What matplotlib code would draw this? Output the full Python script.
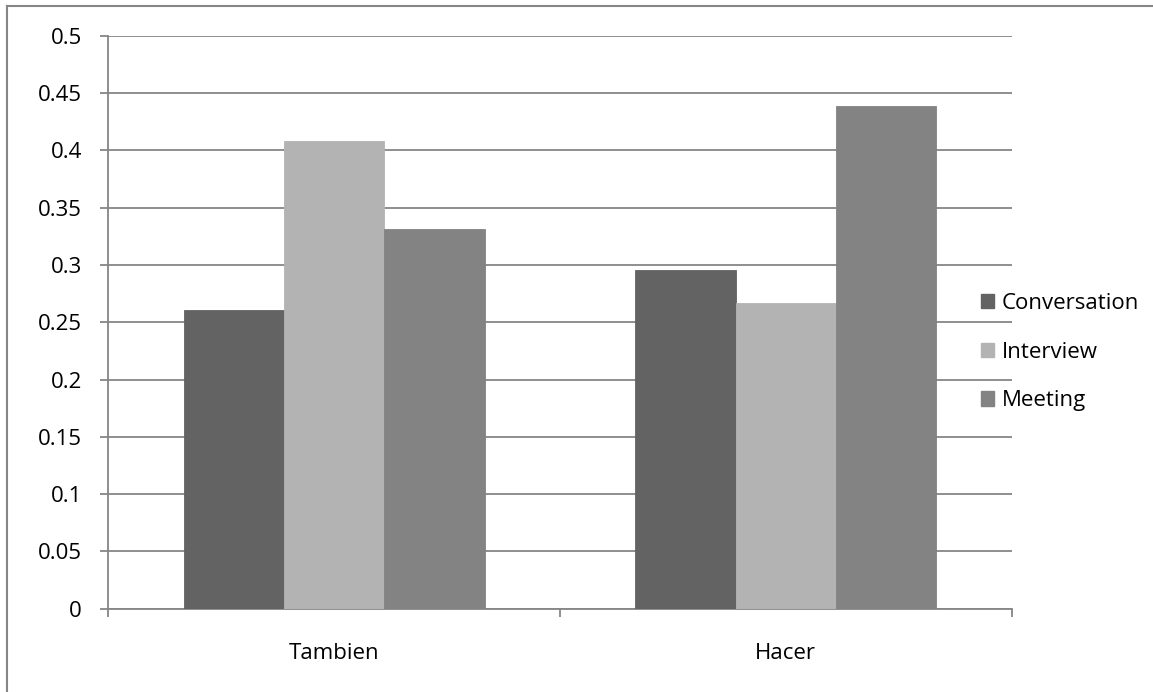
import matplotlib
matplotlib.use("Agg")
import matplotlib.pyplot as plt
import numpy as np
from matplotlib.patches import Patch
from matplotlib.lines import Line2D

categories = ["Tambien", "Hacer"]
series_names = ["Conversation", "Interview", "Meeting"]
conversation = [0.2604, 0.2953]
interview = [0.4084, 0.2665]
meeting = [0.3313, 0.4384]
y_ticks = [0, 0.05, 0.1, 0.15, 0.2, 0.25, 0.3, 0.35, 0.4, 0.45, 0.5]
y_tick_labels = ["0", "0.05", "0.1", "0.15", "0.2", "0.25", "0.3", "0.35", "0.4", "0.45", "0.5"]

colors = ["#636363", "#b3b3b3", "#838383"]
axis_gray = "#868686"

plt.rcParams["font.family"] = ["Open Sans", "DejaVu Sans"]
fs = 16

fig = plt.figure(figsize=(11.53, 6.92), dpi=100)
ax = fig.add_axes([108.3 / 1153, 1 - 608.7 / 692, (1011.7 - 108.3) / 1153, (608.7 - 35.7) / 692])

x = np.arange(len(categories))
width = 2 / 9
for i, (vals, col, name) in enumerate(zip([conversation, interview, meeting], colors, series_names)):
    ax.bar(x + (i - 1) * width, vals, width, color=col, label=name, zorder=3,
           edgecolor=col, linewidth=0.6)

ax.set_xlim(-0.5, len(categories) - 0.5)
ax.set_ylim(0, 0.5)
ax.set_yticks(y_ticks)
ax.set_yticklabels(y_tick_labels, fontsize=fs)
ax.yaxis.grid(True, color=axis_gray, linewidth=1.3, zorder=0)
ax.set_axisbelow(True)

# category boundaries carry the tick marks; names sit at the centers
ax.set_xticks(np.arange(len(categories) + 1) - 0.5)
ax.set_xticklabels([])
ax.set_xticks(x, minor=True)
ax.set_xticklabels(categories, minor=True, fontsize=fs)
ax.tick_params(axis="x", which="major", direction="out", length=6, width=1.3, color=axis_gray)
ax.tick_params(axis="x", which="minor", length=0, pad=25)
ax.tick_params(axis="y", direction="out", length=6, width=1.3, color=axis_gray, pad=13)

for side in ["top", "right"]:
    ax.spines[side].set_visible(False)
for side in ["left", "bottom"]:
    ax.spines[side].set_color(axis_gray)
    ax.spines[side].set_linewidth(1.3)

handles = [Patch(facecolor=c, edgecolor=c) for c in colors]
fig.legend(handles, series_names, loc="center left",
           bbox_to_anchor=(972 / 1153, 1 - 352 / 692), frameon=False,
           fontsize=fs, handlelength=0.6, handleheight=0.6, handletextpad=0.35,
           labelspacing=1.25, borderaxespad=0)

# outer chart frame
fig.add_artist(Line2D([7 / 1153, 7 / 1153], [0, 1 - 6 / 692], transform=fig.transFigure,
                      color=axis_gray, linewidth=1.5))
fig.add_artist(Line2D([7 / 1153, 1], [1 - 6 / 692, 1 - 6 / 692], transform=fig.transFigure,
                      color=axis_gray, linewidth=1.5))

fig.savefig("out.png", dpi=100)
